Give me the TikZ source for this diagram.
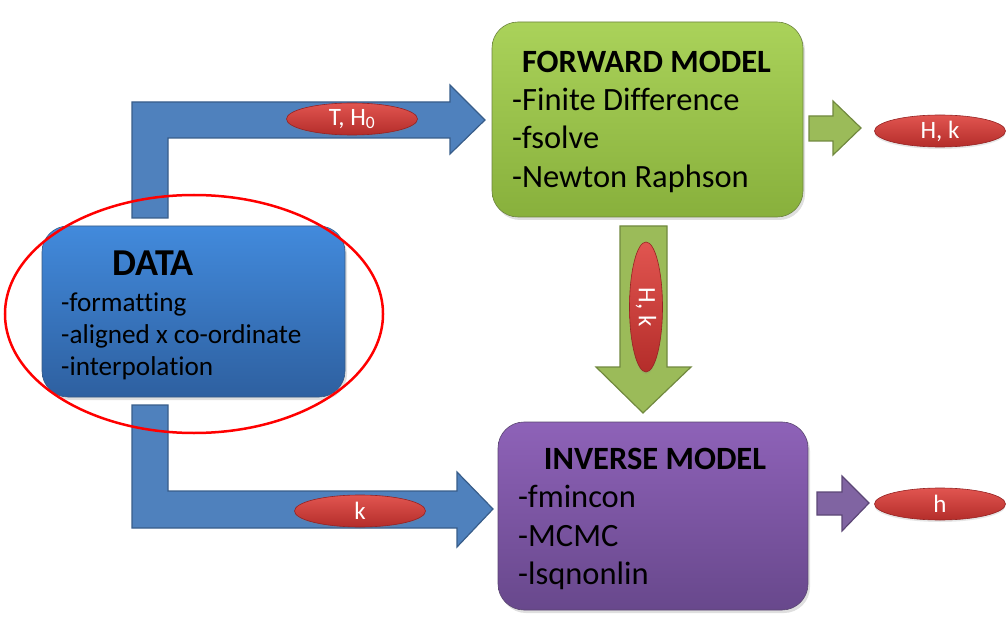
\documentclass[tikz,border=0pt]{standalone}
\usepackage{fontspec}
\setmainfont{Carlito}[Ligatures=NoCommon]
\usetikzlibrary{shapes.geometric,shadows}
\definecolor{bluefill}{RGB}{79,129,189}
\definecolor{blueline}{RGB}{56,93,138}
\definecolor{greenfill}{RGB}{155,187,89}
\definecolor{greenline}{RGB}{113,137,63}
\definecolor{purplefill}{RGB}{128,100,162}
\definecolor{purpleline}{RGB}{92,71,118}
\definecolor{datatop}{RGB}{66,138,220}
\definecolor{databot}{RGB}{46,96,160}
\definecolor{fwdtop}{RGB}{170,210,90}
\definecolor{fwdbot}{RGB}{136,176,60}
\definecolor{invtop}{RGB}{142,98,184}
\definecolor{invbot}{RGB}{104,72,140}
\definecolor{redtop}{RGB}{225,85,80}
\definecolor{redbot}{RGB}{180,45,42}
\definecolor{redline}{RGB}{150,35,35}
\tikzset{
  block/.style={rounded corners=26pt, inner sep=0pt, draw=#1!70!black, line width=0.6pt,
    drop shadow={shadow xshift=2pt, shadow yshift=-3pt, opacity=0.25}},
  blockarrow/.style={line width=1.2pt, line join=miter},
  lbl/.style={ellipse, inner sep=0pt, minimum width=131pt, minimum height=32pt,
    top color=redtop, bottom color=redbot, draw=redline, line width=0.6pt,
    text=white, font=\fontsize{25}{28}\selectfont,
    drop shadow={shadow xshift=0pt, shadow yshift=-2pt, opacity=0.2}},
  title/.style={anchor=base, inner sep=0pt, font=\fontsize{32.5}{36}\selectfont\bfseries},
  item/.style={anchor=base west, inner sep=0pt, font=\fontsize{32.5}{36}\selectfont},
  ditem/.style={anchor=base west, inner sep=0pt, font=\fontsize{27.2}{30}\selectfont},
}
\begin{document}
\begin{tikzpicture}[x=1pt,y=-1pt]
\useasboundingbox (0,0) rectangle (1006,628);
% block arrows
\draw[blockarrow, fill=bluefill, draw=blueline] (132,218) -- (132,102) -- (450,102) -- (450,85) -- (485,120) -- (450,154) -- (450,138) -- (168,138) -- (168,218) -- cycle;
\draw[blockarrow, fill=bluefill, draw=blueline] (132,405) -- (168,405) -- (168,491) -- (457,491) -- (457,472) -- (493,509) -- (457,547) -- (457,528) -- (132,528) -- cycle;
\draw[blockarrow, fill=greenfill, draw=greenline] (809,116) -- (833,116) -- (833,101) -- (861,128) -- (833,155) -- (833,141) -- (809,141) -- cycle;
\draw[blockarrow, fill=greenfill, draw=greenline] (620,226) -- (667,226) -- (667,367) -- (691,367) -- (643,413) -- (596,367) -- (620,367) -- cycle;
\draw[blockarrow, fill=purplefill, draw=purpleline] (817,492) -- (842,492) -- (842,476) -- (869,503) -- (842,531) -- (842,515) -- (817,515) -- cycle;
% boxes
\node[block=greenfill, minimum width=311pt, minimum height=195pt, top color=fwdtop, bottom color=fwdbot] (fwd) at (647.5,119.5) {};
\node[block=bluefill, minimum width=303pt, minimum height=171pt, top color=datatop, bottom color=databot] (data) at (193.5,311.5) {};
\node[block=purplefill, minimum width=310pt, minimum height=188pt, top color=invtop, bottom color=invbot] (inv) at (653,516) {};
% texts
\node[title] (fwdt) at (646.5,73) {FORWARD MODEL};
\node[item] (fwd1) at (512,111) {-Finite Difference};
\node[item] (fwd2) at (512,149) {-fsolve};
\node[item] (fwd3) at (512,188) {-Newton Raphson};
\node[title, font=\fontsize{38}{42}\selectfont\bfseries] (datat) at (153,276) {DATA};
\node[ditem] (data1) at (61,311) {-formatting};
\node[ditem] (data2) at (61,343) {-aligned x co-ordinate};
\node[ditem] (data3) at (61,375) {-interpolation};
\node[title] (invt) at (655,469) {INVERSE MODEL};
\node[item] (inv1) at (518,507) {-fmincon};
\node[item] (inv2) at (518,546) {-MCMC};
\node[item] (inv3) at (518,584) {-lsqnonlin};
% labels
\node[lbl] (l1) at (352,119) {T, H\textsubscript{0}};
\node[lbl] (l2) at (360,511) {k};
\node[lbl] (l3) at (940,131) {H, k};
\node[lbl] (l4) at (940,504) {h};
\node[lbl, rotate=-90, minimum width=130pt, minimum height=33pt] (l5) at (646,307) {H, k};
% highlight ellipse
\draw[red, line width=2.5pt] (194,314) ellipse [x radius=189, y radius=119];
\end{tikzpicture}
\end{document}
